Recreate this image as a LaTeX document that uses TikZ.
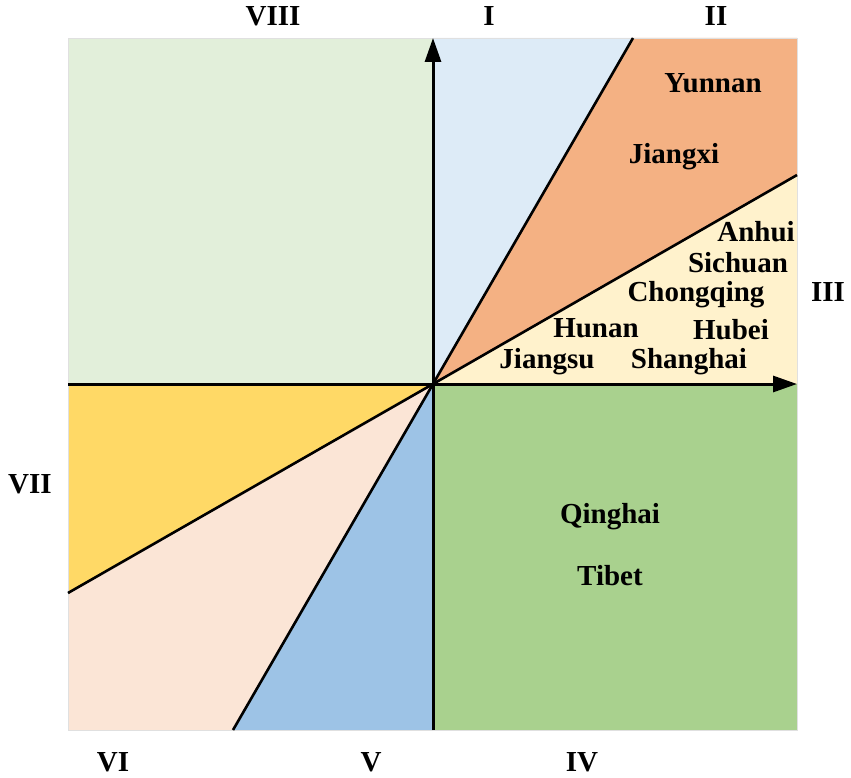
\documentclass[tikz,border=0pt]{standalone}
\usepackage{fontspec}
\setmainfont{Liberation Serif}
\usetikzlibrary{arrows.meta}
\definecolor{cVIII}{HTML}{E2EFDA}
\definecolor{cI}{HTML}{DDEBF7}
\definecolor{cII}{HTML}{F4B183}
\definecolor{cIII}{HTML}{FFF2CC}
\definecolor{cIV}{HTML}{A9D18E}
\definecolor{cV}{HTML}{9DC3E6}
\definecolor{cVI}{HTML}{FBE5D6}
\definecolor{cVII}{HTML}{FFD966}
\tikzset{
  lbl/.style={font=\bfseries\fontsize{29}{31}\selectfont, inner sep=0pt, text=black},
  divider/.style={line width=2.6pt, black},
  axisline/.style={line width=3pt, black, -{Triangle[length=24pt,width=16pt]}},
}
\begin{document}
\begin{tikzpicture}[x=1pt,y=-1pt]
\useasboundingbox (0,0) rectangle (851,778);
\coordinate (O) at (433,384);
\coordinate (TL) at (68,38);
\coordinate (TM) at (433,38);
\coordinate (TI) at (633,38);
\coordinate (TR) at (797,38);
\coordinate (RII) at (797,175);
\coordinate (RM) at (797,384);
\coordinate (BR) at (797,730);
\coordinate (BM) at (433,730);
\coordinate (BV) at (233,730);
\coordinate (BL) at (68,730);
\coordinate (LVI) at (68,593);
\coordinate (LM) at (68,384);
% sectors
\fill[cVIII] (TL) -- (TM) -- (O) -- (LM) -- cycle;
\fill[cI] (O) -- (TM) -- (TI) -- cycle;
\fill[cII] (O) -- (TI) -- (TR) -- (RII) -- cycle;
\fill[cIII] (O) -- (RII) -- (RM) -- cycle;
\fill[cIV] (O) -- (RM) -- (BR) -- (BM) -- cycle;
\fill[cV] (O) -- (BM) -- (BV) -- cycle;
\fill[cVI] (O) -- (BV) -- (BL) -- (LVI) -- cycle;
\fill[cVII] (O) -- (LVI) -- (LM) -- cycle;
\draw[black!12, line width=0.6pt] (TL) rectangle (BR);
% dividers
\draw[divider] (O) -- (TI);
\draw[divider] (O) -- (RII);
\draw[divider] (O) -- (LVI);
\draw[divider] (O) -- (BV);
% axes
\draw[axisline] (LM) -- (RM);
\draw[axisline] (BM) -- (TM);
% region labels
\node[lbl] (nVIII) at (273,16) {VIII};
\node[lbl] (nI) at (489,16) {I};
\node[lbl] (nII) at (716,16) {II};
\node[lbl] (nIII) at (828,292) {III};
\node[lbl] (nVII) at (30,484) {VII};
\node[lbl] (nVI) at (113,762) {VI};
\node[lbl] (nV) at (371,762) {V};
\node[lbl] (nIV) at (582,762) {IV};
% provinces
\node[lbl] (yunnan) at (713,83) {Yunnan};
\node[lbl] (jiangxi) at (674,157) {Jiangxi};
\node[lbl] (anhui) at (756,232) {Anhui};
\node[lbl] (sichuan) at (738,263) {Sichuan};
\node[lbl] (chongqing) at (696,295) {Chongqing};
\node[lbl] (hunan) at (596,328) {Hunan};
\node[lbl] (hubei) at (731,330) {Hubei};
\node[lbl] (jiangsu) at (547,362) {Jiangsu};
\node[lbl] (shanghai) at (689,362) {Shanghai};
\node[lbl] (qinghai) at (610,517) {Qinghai};
\node[lbl] (tibet) at (610,576) {Tibet};
\end{tikzpicture}
\end{document}
